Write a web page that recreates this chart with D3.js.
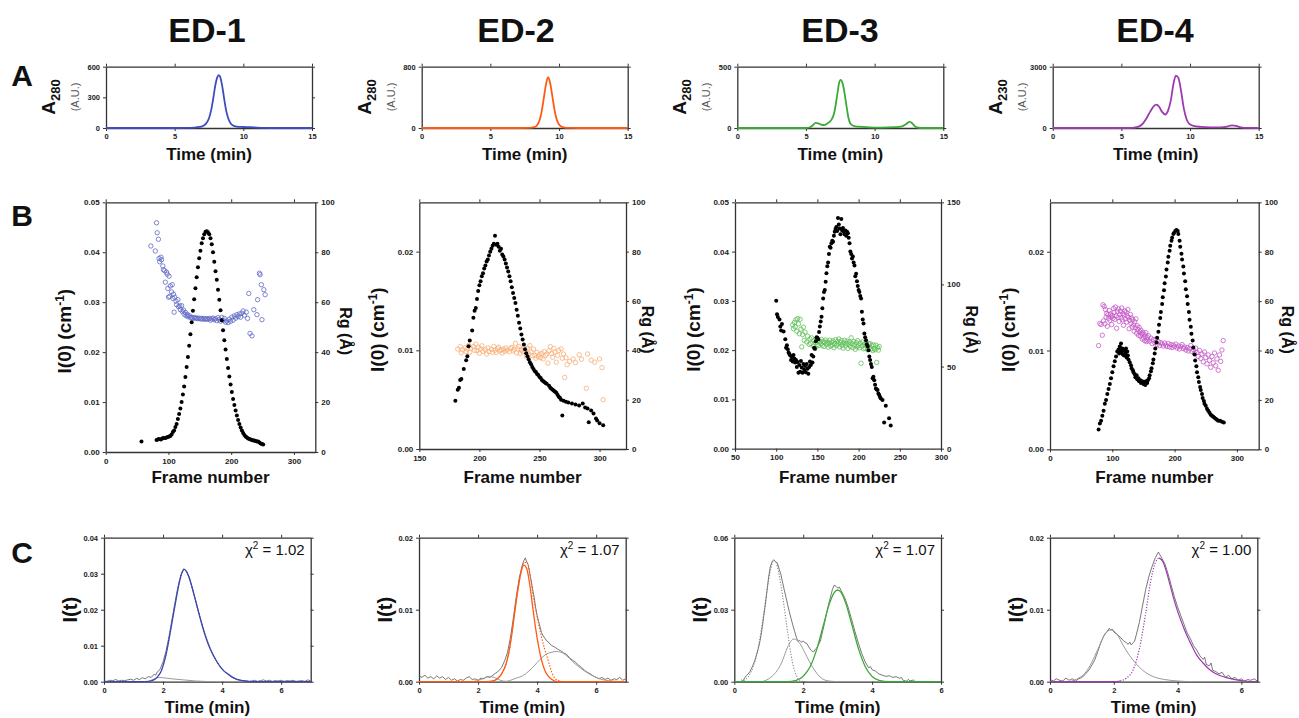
<!DOCTYPE html>
<html><head><meta charset="utf-8">
<script src="https://cdn.jsdelivr.net/npm/d3@7"></script>
<style>body{margin:0;background:#fff;} svg{display:block;}</style>
</head><body><svg id="c" width="1299" height="718"></svg>
<script>
// ---------------- DATA ----------------
const titles = ["ED-1","ED-2","ED-3","ED-4"];
const chi2 = ["1.02","1.07","1.07","1.00"];
const absSub = ["280","280","280","230"];

// Row A: chromatograms [time (min), absorbance]
const a1 = [[0,0],[5,0],[5.8,1],[6.4,4],[6.8,10],[7.1,22],[7.3,45],[7.5,95],[7.65,170],[7.8,280],[7.95,410],[8.1,495],[8.2,518],[8.3,505],[8.45,420],[8.6,290],[8.75,170],[8.9,95],[9.05,50],[9.25,24],[9.5,14],[10,10],[10.5,8],[11,4],[11.5,1],[12,0],[15,0]];
const a2 = [[0,0],[7,0],[7.8,2],[8.2,10],[8.4,35],[8.6,110],[8.75,230],[8.9,400],[9.05,570],[9.2,662],[9.35,590],[9.5,430],[9.65,260],[9.8,130],[9.95,60],[10.15,20],[10.4,6],[10.8,2],[11.5,0],[15,0]];
const a3 = [[0,0],[5,0],[5.3,6],[5.5,22],[5.7,42],[5.9,38],[6.1,28],[6.35,24],[6.6,40],[6.85,66],[7.05,120],[7.25,250],[7.4,360],[7.52,392],[7.65,370],[7.8,290],[7.95,180],[8.1,80],[8.3,28],[8.6,14],[9,10],[9.6,5],[10.5,3],[11.5,7],[12,14],[12.3,32],[12.55,52],[12.75,36],[12.95,12],[13.2,2],[13.6,0],[15,0]];
const a4 = [[0,0],[5,0],[5.8,10],[6.2,55],[6.5,170],[6.8,440],[7.1,800],[7.35,1060],[7.55,1145],[7.75,1040],[7.95,800],[8.2,660],[8.4,850],[8.6,1350],[8.8,2180],[8.97,2565],[9.15,2450],[9.35,1800],[9.55,950],[9.75,430],[9.95,200],[10.25,100],[10.8,55],[11.5,35],[12.2,30],[12.7,70],[13.05,130],[13.35,105],[13.7,35],[14.2,5],[15,0]];
const aYDomain = [600,800,500,3000];
const aYTicks = [[0,300,600],[0,800],[0,500],[0,3000]];

// Row B: I(0) [frame, cm-1] and Rg [frame, Å]
const i0_1 = [[57,0.0021],[81,0.0024],[83,0.0025],[85,0.0026],[88,0.0025],[90,0.0027],[92,0.0028],[95,0.0028],[97,0.0029],[99,0.0030],[101,0.0031],[103,0.0032],[105,0.0035],[107,0.0040],[109,0.0043],[111,0.0050],[113,0.0056],[115,0.0066],[117,0.0076],[119,0.0087],[121,0.0100],[123,0.0115],[125,0.0131],[127,0.0150],[129,0.0170],[131,0.0190],[133,0.0213],[135,0.0236],[137,0.0260],[139,0.0283],[141,0.0306],[143,0.0328],[145,0.0350],[147,0.0370],[149,0.0388],[151,0.0403],[153,0.0418],[155,0.0428],[157,0.0436],[159,0.0441],[161,0.0442],[163,0.0440],[165,0.0436],[167,0.0428],[169,0.0416],[171,0.0400],[173,0.0381],[175,0.0362],[177,0.0345],[179,0.0325],[181,0.0305],[183,0.0284],[185,0.0264],[187,0.0244],[189,0.0224],[191,0.0205],[193,0.0186],[195,0.0168],[197,0.0151],[199,0.0135],[201,0.0120],[203,0.0106],[205,0.0094],[207,0.0083],[209,0.0073],[211,0.0064],[213,0.0056],[215,0.0049],[217,0.0043],[219,0.0038],[221,0.0034],[223,0.0031],[225,0.0029],[227,0.0027],[229,0.0026],[231,0.0025],[233,0.0024],[235,0.0023],[237,0.0023],[239,0.0022],[241,0.0021],[243,0.0021],[245,0.0019],[247,0.0017],[249,0.0016],[251,0.0015]];
const rg_1 = [[72,82.5],[79,80.5],[81,91.8],[82,87.8],[84,85.2],[85,77.5],[86,76.2],[88,78.0],[89,77.0],[91,74.5],[92,73.0],[94,72.6],[95,68.0],[97,72.0],[98,71.2],[99,65.5],[100,62.0],[101,70.4],[102,62.3],[103,66.5],[105,64.1],[106,67.0],[107,61.5],[108,63.2],[109,56.0],[110,62.0],[112,60.4],[113,59.0],[115,61.0],[116,58.2],[118,58.5],[119,57.0],[121,58.6],[122,56.3],[124,56.8],[125,55.2],[127,55.9],[128,54.6],[130,55.1],[131,54.2],[133,54.6],[135,53.8],[137,54.0],[139,53.6],[141,53.9],[143,53.5],[145,53.7],[147,53.4],[149,53.6],[151,53.3],[153,53.5],[155,53.2],[157,53.5],[159,53.1],[161,53.4],[163,53.2],[165,53.5],[167,52.8],[169,53.3],[171,53.6],[173,53.0],[175,53.4],[177,52.6],[179,53.8],[181,53.0],[183,52.4],[185,53.9],[187,52.7],[189,53.5],[191,52.0],[193,52.5],[195,51.8],[197,53.2],[199,52.3],[201,54.0],[203,52.8],[205,54.5],[207,53.6],[209,55.0],[211,54.2],[213,55.3],[215,54.0],[217,55.6],[219,56.5],[221,54.8],[224,56.0],[226,53.5],[228,63.5],[230,47.5],[233,46.5],[236,57.0],[241,55.0],[242,61.0],[245,71.6],[246,71.0],[248,67.0],[249,53.0],[252,65.0],[254,63.0]];

const i0_2 = [[180,0.0049],[182,0.0060],[183,0.0062],[184,0.0070],[185,0.0071],[187,0.0081],[189,0.0090],[190,0.0094],[191,0.0104],[192,0.0110],[194,0.0120],[195,0.0133],[196,0.0140],[197,0.0143],[198,0.0152],[199,0.0160],[200,0.0166],[201,0.0170],[202,0.0175],[203,0.0178],[204,0.0183],[205,0.0186],[206,0.0190],[207,0.0192],[208,0.0196],[209,0.0200],[210,0.0203],[211,0.0206],[212,0.0208],[213,0.0216],[214,0.0207],[215,0.0208],[216,0.0205],[217,0.0201],[218,0.0203],[219,0.0197],[220,0.0195],[221,0.0192],[222,0.0188],[223,0.0184],[224,0.0180],[225,0.0175],[226,0.0170],[227,0.0164],[228,0.0158],[229,0.0153],[230,0.0148],[231,0.0141],[232,0.0135],[233,0.0128],[234,0.0122],[235,0.0116],[236,0.0111],[237,0.0106],[238,0.0101],[239,0.0097],[240,0.0094],[241,0.0091],[242,0.0088],[243,0.0086],[244,0.0083],[245,0.0081],[246,0.0079],[247,0.0078],[248,0.0076],[249,0.0075],[250,0.0073],[251,0.0072],[252,0.0070],[253,0.0069],[254,0.0068],[255,0.0067],[256,0.0066],[258,0.0064],[259,0.0062],[260,0.0061],[261,0.0060],[262,0.0059],[263,0.0058],[264,0.0057],[265,0.0055],[266,0.0053],[267,0.0052],[268,0.0050],[269,0.0034],[270,0.0049],[272,0.0048],[274,0.0047],[277,0.0046],[280,0.0045],[283,0.0044],[286,0.0046],[288,0.0042],[290,0.0041],[291,0.0027],[293,0.0039],[295,0.0036],[297,0.0031],[298,0.0029],[300,0.0026],[303,0.0024]];
const rg_2 = [[182,40.5],[184,41.5],[185,39.0],[186,40.2],[188,41.0],[189,39.5],[190,40.5],[191,42.0],[192,39.2],[193,40.8],[195,41.5],[196,40.0],[197,42.5],[198,39.8],[199,41.2],[200,38.8],[201,40.6],[202,41.8],[203,39.6],[205,40.3],[206,38.5],[207,41.0],[208,39.5],[210,40.4],[211,39.2],[212,41.6],[213,40.0],[214,39.1],[215,40.7],[216,41.3],[217,39.7],[218,40.2],[219,38.9],[220,40.5],[221,39.6],[222,41.0],[223,40.1],[225,39.4],[226,40.8],[227,41.2],[228,39.8],[229,40.4],[230,42.8],[231,39.0],[232,40.6],[233,41.5],[234,38.7],[235,40.2],[236,39.5],[237,41.0],[238,39.9],[239,37.5],[240,40.8],[241,38.6],[242,41.9],[243,39.3],[244,37.8],[245,40.5],[246,38.0],[247,36.8],[248,39.2],[249,37.4],[250,38.3],[251,37.0],[252,38.8],[253,36.5],[254,39.5],[255,37.9],[256,38.5],[257,34.8],[258,39.8],[259,41.5],[260,38.7],[261,37.2],[262,40.8],[263,39.3],[264,35.2],[265,38.0],[266,39.9],[268,40.6],[269,36.8],[270,38.5],[271,29.0],[272,37.0],[273,34.2],[275,35.5],[278,36.5],[280,35.0],[283,38.2],[285,36.4],[289,24.6],[290,38.5],[293,36.0],[296,35.2],[300,36.5],[302,33.0],[303,20.0]];

const i0_3 = [[100,0.0300],[101,0.0273],[102,0.0267],[104,0.0262],[105,0.0248],[106,0.0240],[107,0.0253],[109,0.0238],[111,0.0222],[112,0.0205],[113,0.0210],[114,0.0202],[115,0.0195],[116,0.0192],[117,0.0189],[118,0.0180],[119,0.0186],[120,0.0177],[121,0.0190],[122,0.0183],[123,0.0175],[124,0.0180],[125,0.0166],[126,0.0176],[127,0.0154],[128,0.0170],[129,0.0156],[130,0.0178],[131,0.0165],[132,0.0154],[133,0.0172],[134,0.0160],[135,0.0168],[136,0.0155],[137,0.0172],[138,0.0162],[139,0.0152],[140,0.0166],[141,0.0177],[142,0.0170],[143,0.0190],[144,0.0175],[145,0.0187],[146,0.0205],[147,0.0203],[148,0.0218],[149,0.0226],[150,0.0225],[151,0.0222],[152,0.0237],[153,0.0248],[154,0.0258],[155,0.0268],[156,0.0285],[157,0.0305],[158,0.0318],[159,0.0322],[160,0.0339],[161,0.0356],[162,0.0370],[163,0.0378],[164,0.0395],[165,0.0410],[166,0.0408],[167,0.0417],[168,0.0422],[169,0.0420],[170,0.0432],[171,0.0440],[172,0.0446],[173,0.0450],[174,0.0442],[175,0.0468],[176,0.0455],[177,0.0447],[178,0.0435],[179,0.0466],[180,0.0443],[181,0.0448],[182,0.0440],[183,0.0435],[184,0.0443],[185,0.0432],[186,0.0440],[187,0.0437],[188,0.0428],[189,0.0417],[190,0.0400],[191,0.0395],[192,0.0386],[193,0.0390],[194,0.0378],[195,0.0372],[196,0.0350],[197,0.0355],[198,0.0340],[199,0.0330],[200,0.0322],[201,0.0318],[202,0.0310],[203,0.0305],[204,0.0278],[205,0.0262],[206,0.0254],[207,0.0234],[208,0.0226],[209,0.0220],[210,0.0212],[211,0.0208],[212,0.0200],[213,0.0187],[214,0.0180],[215,0.0172],[216,0.0166],[217,0.0143],[218,0.0146],[219,0.0139],[220,0.0130],[221,0.0122],[222,0.0120],[223,0.0119],[224,0.0112],[225,0.0109],[226,0.0105],[227,0.0102],[229,0.0099],[231,0.0053],[233,0.0087],[237,0.0062],[239,0.0047]];
const rg_3 = [[120,75.5],[121,73.0],[122,76.8],[123,74.2],[124,78.5],[125,71.5],[126,79.2],[127,76.0],[128,70.0],[129,78.8],[130,72.8],[131,62.0],[132,69.5],[133,74.0],[134,66.0],[135,71.0],[137,65.0],[138,68.5],[140,63.5],[141,66.8],[142,64.0],[143,67.5],[145,62.5],[146,65.8],[147,61.0],[148,64.5],[149,67.0],[150,63.2],[151,66.0],[152,62.8],[153,65.5],[154,64.0],[155,66.5],[156,63.0],[157,65.2],[158,62.2],[159,64.8],[160,66.2],[161,63.5],[162,65.0],[163,61.8],[164,64.2],[165,66.0],[166,62.5],[167,64.8],[168,63.0],[169,65.6],[170,61.5],[171,64.0],[172,66.4],[173,62.8],[174,65.2],[175,63.6],[176,66.8],[177,62.0],[178,64.6],[179,65.8],[180,63.0],[181,61.2],[182,64.4],[183,66.0],[184,62.6],[185,64.0],[186,65.5],[187,61.0],[188,63.8],[189,65.0],[190,62.2],[191,67.5],[192,64.0],[193,61.5],[194,65.3],[195,63.2],[196,60.5],[197,64.6],[198,62.0],[199,65.8],[200,63.0],[201,61.4],[202,64.2],[203,52.0],[204,62.5],[205,65.0],[206,60.8],[207,63.6],[208,61.2],[209,64.5],[210,62.4],[211,60.2],[212,63.8],[213,61.6],[214,64.0],[215,60.6],[216,62.8],[217,59.8],[218,63.2],[219,61.0],[220,60.2],[221,63.0],[222,52.5],[223,61.5],[224,60.0],[225,62.2]];

const i0_4 = [[78,0.0020],[80,0.0026],[82,0.0029],[84,0.0034],[86,0.0039],[88,0.0046],[90,0.0050],[92,0.0056],[94,0.0061],[96,0.0066],[98,0.0072],[100,0.0078],[102,0.0084],[104,0.0089],[106,0.0094],[108,0.0099],[110,0.0101],[111,0.0097],[112,0.0104],[113,0.0100],[114,0.0107],[115,0.0098],[116,0.0102],[117,0.0096],[118,0.0101],[119,0.0095],[120,0.0100],[121,0.0097],[122,0.0102],[123,0.0093],[124,0.0099],[125,0.0095],[126,0.0091],[128,0.0088],[130,0.0085],[131,0.0082],[133,0.0080],[134,0.0078],[136,0.0076],[137,0.0073],[139,0.0075],[140,0.0071],[142,0.0072],[143,0.0069],[145,0.0070],[146,0.0067],[148,0.0069],[150,0.0066],[151,0.0068],[153,0.0065],[154,0.0069],[156,0.0067],[157,0.0070],[159,0.0072],[160,0.0075],[162,0.0079],[163,0.0082],[165,0.0087],[166,0.0091],[168,0.0097],[169,0.0102],[171,0.0108],[172,0.0113],[174,0.0119],[175,0.0126],[177,0.0133],[178,0.0139],[180,0.0147],[181,0.0154],[183,0.0161],[184,0.0168],[186,0.0175],[187,0.0182],[189,0.0189],[190,0.0195],[192,0.0201],[193,0.0206],[195,0.0211],[196,0.0214],[198,0.0218],[199,0.0219],[201,0.0221],[203,0.0222],[205,0.0221],[206,0.0218],[208,0.0211],[209,0.0205],[211,0.0198],[212,0.0192],[214,0.0185],[215,0.0178],[217,0.0170],[218,0.0162],[220,0.0155],[221,0.0147],[223,0.0139],[224,0.0131],[226,0.0124],[227,0.0117],[229,0.0110],[230,0.0103],[232,0.0096],[233,0.0090],[235,0.0084],[236,0.0078],[238,0.0073],[239,0.0068],[241,0.0063],[242,0.0060],[244,0.0056],[245,0.0052],[247,0.0049],[248,0.0046],[250,0.0044],[252,0.0041],[254,0.0039],[256,0.0037],[258,0.0035],[260,0.0034],[262,0.0033],[264,0.0032],[266,0.0031],[268,0.0030],[270,0.0029],[273,0.0029],[276,0.0028],[279,0.0027]];
const rg_4 = [[78,42.0],[80,51.0],[82,50.5],[84,46.2],[85,58.5],[86,52.0],[87,57.8],[88,50.8],[89,56.6],[90,53.5],[91,55.0],[92,49.8],[93,54.5],[94,53.0],[95,56.2],[96,52.2],[97,54.8],[98,53.6],[99,50.5],[100,54.2],[101,53.0],[102,57.0],[103,55.4],[104,52.6],[105,57.6],[106,54.0],[107,49.0],[108,55.8],[109,53.4],[110,56.8],[111,51.8],[112,54.6],[113,55.9],[114,53.2],[115,57.2],[116,52.4],[117,55.0],[118,50.2],[119,54.4],[120,56.0],[121,52.8],[122,55.6],[123,51.5],[124,54.0],[125,56.6],[126,53.4],[127,48.8],[128,52.2],[129,54.6],[130,51.0],[131,53.2],[132,49.5],[133,52.5],[134,50.4],[135,47.8],[136,51.6],[137,49.2],[138,52.8],[139,47.0],[140,50.0],[141,48.6],[142,46.2],[143,49.4],[144,47.6],[145,45.8],[146,48.2],[147,46.8],[148,44.6],[149,47.4],[150,45.2],[151,46.6],[152,44.0],[153,45.8],[154,47.2],[155,43.6],[156,45.4],[157,44.2],[158,46.0],[160,43.8],[162,45.0],[164,42.8],[166,44.4],[168,43.2],[170,44.6],[172,42.4],[174,43.6],[176,42.0],[178,43.2],[180,42.6],[182,41.8],[184,43.0],[186,42.2],[188,41.6],[190,42.8],[192,41.4],[194,42.4],[196,41.2],[198,42.2],[200,41.6],[202,42.6],[204,41.0],[206,41.8],[208,40.6],[210,41.6],[212,42.4],[214,40.8],[216,41.4],[218,40.2],[220,41.2],[222,39.8],[224,40.8],[226,42.0],[228,39.6],[230,40.4],[232,38.8],[234,41.0],[236,39.2],[238,37.6],[240,40.0],[242,36.8],[244,38.6],[246,35.4],[248,39.4],[250,37.2],[252,34.6],[254,38.2],[256,36.0],[258,33.2],[260,37.6],[262,35.0],[264,39.0],[266,33.8],[268,36.6],[270,32.0],[272,38.2],[274,35.6],[276,40.2],[278,44.0]];

// Row C: I(t) data, fitted components [time (min), I]
const c1_data = [[0,0.0002],[0.1,0.0001],[0.2,0.0004],[0.3,0.0003],[0.4,0.0006],[0.5,0.0002],[0.6,0.0004],[0.7,0.0003],[0.8,0.0005],[0.9,0.0007],[1.0,0.0004],[1.1,0.0009],[1.2,0.0006],[1.3,0.0011],[1.4,0.0008],[1.5,0.0014],[1.6,0.0012],[1.7,0.0021],[1.75,0.0018],[1.8,0.0027],[1.85,0.0030],[1.9,0.0035],[2.0,0.0055],[2.1,0.0085],[2.2,0.0125],[2.3,0.0172],[2.4,0.0218],[2.5,0.0262],[2.6,0.0296],[2.7,0.0314],[2.75,0.0310],[2.8,0.0306],[2.9,0.0288],[3.0,0.0255],[3.1,0.0228],[3.2,0.0196],[3.3,0.0166],[3.4,0.0138],[3.5,0.0114],[3.6,0.0092],[3.7,0.0072],[3.8,0.0058],[3.9,0.0046],[4.0,0.0036],[4.1,0.0026],[4.2,0.0022],[4.3,0.0014],[4.4,0.0011],[4.5,0.0006],[4.6,0.0004],[4.7,0.0002],[4.8,0.0003],[4.9,0.0001],[5.0,0.0002],[5.1,0.0004],[5.2,0.0001],[5.3,0.0003],[5.4,0.0005],[5.5,0.0002],[5.6,0.0004],[5.7,0.0001],[5.8,0.0003],[5.9,0.0002],[6.0,0.0004],[6.1,0.0001],[6.2,0.0003],[6.3,0.0002],[6.4,0.0004],[6.5,0.0001],[6.6,0.0002],[6.7,0.0003],[6.8,0.0001],[6.9,0.0005],[7.0,0.0002]];
const c1_main = [[0,0],[1.4,0],[1.6,0.0002],[1.8,0.0012],[1.95,0.0032],[2.1,0.0075],[2.25,0.0140],[2.4,0.0210],[2.55,0.0275],[2.65,0.0305],[2.72,0.0312],[2.8,0.0305],[2.95,0.0272],[3.1,0.0225],[3.25,0.0178],[3.4,0.0135],[3.55,0.0100],[3.7,0.0074],[3.85,0.0052],[4.0,0.0035],[4.2,0.0021],[4.4,0.0010],[4.7,0.0003],[5,0],[7,0]];
const c1_minor = [[1.5,0],[1.7,0.0008],[1.85,0.0012],[2.0,0.0011],[2.3,0.0008],[2.7,0.0005],[3.1,0.0002],[3.5,0.00005],[4,0]];

const c2_data = [[0,0.0008],[0.1,0.0006],[0.2,0.0009],[0.3,0.0005],[0.4,0.0007],[0.5,0.0004],[0.6,0.0008],[0.7,0.0005],[0.8,0.0007],[0.9,0.0003],[1.0,0.0006],[1.1,0.0002],[1.2,0.0004],[1.3,0.0001],[1.4,0.0003],[1.5,0.0002],[1.6,0.0005],[1.7,0.0007],[1.8,0.0003],[1.9,0.0004],[2.0,0.0002],[2.1,0.0005],[2.2,0.0004],[2.3,0.0007],[2.4,0.0006],[2.5,0.0009],[2.6,0.0012],[2.7,0.0015],[2.8,0.0020],[2.9,0.0029],[3.0,0.0041],[3.1,0.0062],[3.2,0.0090],[3.3,0.0120],[3.4,0.0145],[3.5,0.0162],[3.55,0.0168],[3.6,0.0172],[3.65,0.0166],[3.7,0.0162],[3.75,0.0150],[3.8,0.0140],[3.85,0.0128],[3.9,0.0117],[3.95,0.0103],[4.0,0.0092],[4.05,0.0084],[4.1,0.0076],[4.15,0.0068],[4.2,0.0064],[4.3,0.0058],[4.4,0.0054],[4.5,0.0050],[4.6,0.0048],[4.7,0.0045],[4.8,0.0043],[4.9,0.0040],[5.0,0.0038],[5.1,0.0033],[5.2,0.0030],[5.3,0.0027],[5.4,0.0023],[5.5,0.0020],[5.6,0.0016],[5.7,0.0013],[5.8,0.0011],[5.9,0.0008],[6.0,0.0006],[6.1,0.0004],[6.2,0.0006],[6.3,0.0003],[6.4,0.0005],[6.5,0.0002],[6.6,0.0004],[6.7,0.0003],[6.8,0.0006],[6.9,0.0002],[7.0,0.0004]];
const c2_main = [[0,0],[2.3,0],[2.5,0.0001],[2.65,0.0004],[2.8,0.0011],[2.95,0.0025],[3.05,0.0042],[3.15,0.0068],[3.25,0.0099],[3.35,0.0128],[3.45,0.0151],[3.55,0.0162],[3.65,0.0157],[3.75,0.0135],[3.85,0.0104],[3.95,0.0074],[4.05,0.0049],[4.15,0.0030],[4.25,0.0017],[4.35,0.0009],[4.5,0.0003],[4.7,0],[7,0]];
const c2_fit = [[2.3,0],[2.5,0.0001],[2.65,0.0004],[2.8,0.0011],[2.95,0.0025],[3.05,0.0042],[3.15,0.0068],[3.25,0.0099],[3.35,0.0128],[3.45,0.0152],[3.55,0.0165],[3.65,0.0166],[3.75,0.0152],[3.85,0.0123],[3.95,0.0101],[4.05,0.0080],[4.15,0.0062],[4.25,0.0046],[4.35,0.0033],[4.45,0.0019],[4.55,0.0008],[4.7,0.0002],[4.9,0]];
const c2_minor = [[1.8,0],[2.1,0.0003],[2.35,0.0007],[2.55,0.0006],[2.75,0.0002],[2.95,0.00005],[3.1,0.0002],[3.3,0.0005],[3.5,0.0008],[3.7,0.0014],[3.9,0.0022],[4.1,0.0031],[4.3,0.0038],[4.5,0.0041],[4.65,0.0042],[4.8,0.0041],[5.0,0.0036],[5.2,0.0028],[5.4,0.0021],[5.6,0.0015],[5.8,0.0010],[6.0,0.0006],[6.2,0.0003],[6.5,0.0001],[7,0]];

const c3_data = [[0.2,0.0008],[0.25,0.0003],[0.3,0.0015],[0.35,0.0025],[0.4,0.0032],[0.45,0.0041],[0.5,0.0055],[0.55,0.0072],[0.6,0.0090],[0.65,0.0115],[0.7,0.0140],[0.75,0.0172],[0.8,0.0215],[0.85,0.0268],[0.9,0.0320],[0.95,0.0380],[1.0,0.0440],[1.05,0.0482],[1.1,0.0502],[1.15,0.0508],[1.2,0.0500],[1.25,0.0495],[1.3,0.0470],[1.35,0.0448],[1.4,0.0415],[1.45,0.0382],[1.5,0.0352],[1.55,0.0320],[1.6,0.0290],[1.65,0.0262],[1.7,0.0235],[1.75,0.0210],[1.8,0.0186],[1.85,0.0168],[1.9,0.0172],[1.95,0.0164],[2.0,0.0170],[2.05,0.0162],[2.1,0.0160],[2.15,0.0148],[2.2,0.0136],[2.25,0.0128],[2.3,0.0124],[2.35,0.0135],[2.4,0.0142],[2.5,0.0170],[2.6,0.0232],[2.7,0.0300],[2.8,0.0358],[2.85,0.0385],[2.9,0.0402],[2.95,0.0398],[3.0,0.0390],[3.05,0.0394],[3.1,0.0380],[3.2,0.0352],[3.3,0.0312],[3.4,0.0262],[3.5,0.0210],[3.6,0.0162],[3.7,0.0118],[3.8,0.0082],[3.85,0.0070],[3.9,0.0058],[3.95,0.0063],[4.0,0.0050],[4.1,0.0044],[4.2,0.0032],[4.3,0.0027],[4.4,0.0022],[4.5,0.0025],[4.6,0.0018],[4.7,0.0021],[4.8,0.0014],[4.85,0.0018],[4.9,0.0006],[5.0,0.0002],[5.05,0.0010],[5.1,0.0003],[5.2,0.0007],[5.25,0.0001],[5.3,0]];
const c3_main = [[0,0],[1.5,0],[1.8,0.0006],[2.0,0.0023],[2.2,0.0062],[2.4,0.0138],[2.6,0.0243],[2.75,0.0320],[2.9,0.0371],[3.0,0.0382],[3.1,0.0372],[3.25,0.0320],[3.4,0.0244],[3.6,0.0140],[3.8,0.0063],[4.0,0.0022],[4.2,0.0006],[4.5,0],[6,0]];
const c3_minor = [[0.8,0],[1.0,0.0012],[1.2,0.0038],[1.37,0.0078],[1.55,0.0145],[1.73,0.0178],[1.9,0.0160],[2.1,0.0106],[2.25,0.0066],[2.4,0.0034],[2.58,0.0010],[2.8,0.0002],[3.1,0]];
const c3_first = [[0.2,0],[0.4,0.0020],[0.55,0.0062],[0.7,0.0145],[0.85,0.0280],[0.95,0.0380],[1.05,0.0465],[1.15,0.0505],[1.25,0.0480],[1.35,0.0405],[1.45,0.0310],[1.55,0.0205],[1.65,0.0110],[1.75,0.0045],[1.85,0.0012],[1.95,0.0002],[2.1,0]];

const c4_data = [[0,0.0003],[0.1,0.0001],[0.2,0.0004],[0.3,0.0002],[0.4,0.0001],[0.5,0.0005],[0.6,0.0002],[0.7,0.0004],[0.8,0.0001],[0.9,0.0004],[1.0,0.0006],[1.1,0.0010],[1.2,0.0015],[1.3,0.0022],[1.4,0.0030],[1.5,0.0042],[1.6,0.0055],[1.7,0.0065],[1.75,0.0068],[1.8,0.0070],[1.85,0.0074],[1.9,0.0072],[1.95,0.0073],[2.0,0.0069],[2.1,0.0066],[2.2,0.0062],[2.3,0.0057],[2.4,0.0054],[2.45,0.0052],[2.5,0.0055],[2.55,0.0051],[2.6,0.0054],[2.65,0.0056],[2.7,0.0064],[2.8,0.0082],[2.9,0.0105],[3.0,0.0128],[3.1,0.0146],[3.2,0.0160],[3.3,0.0172],[3.35,0.0176],[3.4,0.0180],[3.45,0.0176],[3.5,0.0172],[3.6,0.0164],[3.7,0.0150],[3.8,0.0134],[3.9,0.0118],[4.0,0.0104],[4.1,0.0092],[4.2,0.0080],[4.3,0.0068],[4.4,0.0060],[4.5,0.0050],[4.6,0.0044],[4.7,0.0036],[4.8,0.0031],[4.85,0.0034],[4.9,0.0024],[5.0,0.0022],[5.05,0.0026],[5.1,0.0016],[5.2,0.0014],[5.3,0.0011],[5.4,0.0013],[5.5,0.0006],[5.6,0.0009],[5.7,0.0004],[5.8,0.0006],[5.9,0.0002],[6.0,0.0004],[6.1,0.0001],[6.2,0.0003],[6.3,0.0002],[6.4,0.0004],[6.5,0.0001]];
const c4_main = [[0,0],[2.0,0],[2.2,0.0001],[2.4,0.0005],[2.6,0.0016],[2.8,0.0045],[3.0,0.0095],[3.15,0.0138],[3.3,0.0165],[3.42,0.0172],[3.55,0.0166],[3.7,0.0145],[3.85,0.0120],[4.0,0.0098],[4.2,0.0074],[4.4,0.0054],[4.6,0.0037],[4.8,0.0026],[5.0,0.0017],[5.25,0.0010],[5.5,0.0006],[5.8,0.0003],[6.1,0.0001],[6.5,0]];
const c4_minor = [[0.6,0],[0.9,0.0005],[1.1,0.0012],[1.3,0.0026],[1.5,0.0045],[1.7,0.0064],[1.9,0.0072],[2.1,0.0066],[2.3,0.0050],[2.5,0.0036],[2.7,0.0025],[2.9,0.0016],[3.1,0.0010],[3.3,0.0006],[3.6,0.0003],[4.0,0.0001],[4.5,0]];

// ---------------- STYLE / LAYOUT ----------------
const FONT = 'Arial, "Liberation Sans", Helvetica, sans-serif';
const colors = ["#3f4cc0","#ff5a14","#3aaa36","#9c3aaf"];
const rgColors = ["#6068c4","#f7ae78","#5ebf58","#c45ac6"];
const svg = d3.select('#c').attr('font-family', FONT);

function styleAxis(sel, fs) {
  sel.select('.domain').attr('stroke','#333').attr('stroke-width',1.3);
  sel.selectAll('.tick line').attr('stroke','#333').attr('stroke-width',1);
  sel.selectAll('.tick text').attr('font-size',fs).attr('font-weight','bold').attr('fill','#222').attr('font-family',FONT);
}
function frame(g, x, y, o) {
  const [L,R] = x.range(), [B,T] = y.range();
  g.append('g').attr('transform',`translate(0,${B})`)
    .call(d3.axisBottom(x).tickValues(o.xt).tickSize(3).tickSizeOuter(0).tickPadding(3).tickFormat(o.xf || d3.format('d')))
    .call(s=>styleAxis(s,o.fs));
  g.append('g').attr('transform',`translate(0,${T})`)
    .call(d3.axisTop(x).tickValues(o.xt).tickSize(3).tickSizeOuter(0).tickFormat(''))
    .call(s=>styleAxis(s,o.fs));
  g.append('g').attr('transform',`translate(${L},0)`)
    .call(d3.axisLeft(y).tickValues(o.yt).tickSize(3).tickSizeOuter(0).tickPadding(3).tickFormat(o.yf))
    .call(s=>styleAxis(s,o.fs));
  const r = o.r || y;
  g.append('g').attr('transform',`translate(${R},0)`)
    .call(d3.axisRight(r).tickValues(o.rt || o.yt).tickSize(3).tickSizeOuter(0).tickPadding(3).tickFormat(o.r ? d3.format('d') : ''))
    .call(s=>styleAxis(s,o.fs));
}
function clip(g, id, x, y) {
  const [L,R] = x.range(), [B,T] = y.range();
  svg.append('clipPath').attr('id',id).append('rect').attr('x',L).attr('y',T-1).attr('width',R-L).attr('height',B-T+2);
  return g.append('g').attr('clip-path',`url(#${id})`);
}

// Column titles and row letters
const titleX = [207,516,840,1155];
titles.forEach((t,i)=>svg.append('text').attr('x',titleX[i]).attr('y',42).attr('text-anchor','middle')
  .attr('font-size',34).attr('font-weight','bold').attr('fill','#111').text(t));
[['A',86],['B',226],['C',563]].forEach(([t,yy])=>svg.append('text').attr('x',22).attr('y',yy).attr('text-anchor','middle')
  .attr('font-size',30).attr('font-weight','bold').attr('fill','#111').text(t));

// ---------------- ROW A ----------------
const aData = [a1,a2,a3,a4];
const aLeft = [106,421.7,737.3,1052.7];
aData.forEach((d,i)=>{
  const g = svg.append('g');
  const x = d3.scaleLinear().domain([0,15]).range([aLeft[i], aLeft[i]+206]);
  const y = d3.scaleLinear().domain([0,aYDomain[i]]).range([128,66.7]);
  frame(g,x,y,{xt:[0,5,10,15], yt:aYTicks[i], yf:d3.format('d'), fs:7.5});
  clip(g,'ca'+i,x,y).append('path').datum(d)
    .attr('d', d3.line().x(p=>x(p[0])).y(p=>y(p[1])).curve(d3.curveMonotoneX))
    .attr('fill','none').attr('stroke',colors[i]).attr('stroke-width',1.8);
  const lab = g.append('text').attr('transform',`translate(${aLeft[i]-51},97) rotate(-90)`).attr('text-anchor','middle')
    .attr('font-weight','bold').attr('fill','#111');
  lab.append('tspan').attr('font-size',19).text('A');
  lab.append('tspan').attr('font-size',13).attr('dy',5).text(absSub[i]);
  g.append('text').attr('transform',`translate(${aLeft[i]-27},97) rotate(-90)`).attr('text-anchor','middle')
    .attr('font-size',11).attr('fill','#555').text('(A.U.)');
  g.append('text').attr('x',aLeft[i]+103).attr('y',159.5).attr('text-anchor','middle')
    .attr('font-size',17).attr('font-weight','bold').attr('fill','#111').text('Time (min)');
});

// ---------------- ROW B ----------------
const bI0 = [i0_1,i0_2,i0_3,i0_4];
const bRg = [rg_1,rg_2,rg_3,rg_4];
const bLeft = [105.7,419.3,735,1050], bRight = [315.3,626,941,1258.7], bBottom = [452,449,448.7,449.3];
const bXDom = [[0,334],[150,322],[50,300],[0,335]];
const bXTicks = [[0,100,200,300],[150,200,250,300],[50,100,150,200,250,300],[0,100,200,300]];
const bYDom = [0.05,0.025,0.05,0.025];
const bYTicks = [[0,0.01,0.02,0.03,0.04,0.05],[0,0.01,0.02],[0,0.01,0.02,0.03,0.04,0.05],[0,0.01,0.02]];
const bRDom = [100,100,150,100];
const bRTicks = [[0,20,40,60,80,100],[0,20,40,60,80,100],[0,50,100,150],[0,20,40,60,80,100]];
const bRgLabelOff = [30,22,31,29];
bI0.forEach((d,i)=>{
  const g = svg.append('g');
  const x = d3.scaleLinear().domain(bXDom[i]).range([bLeft[i], bRight[i]]);
  const y = d3.scaleLinear().domain([0,bYDom[i]]).range([bBottom[i],202.3]);
  const r = d3.scaleLinear().domain([0,bRDom[i]]).range([bBottom[i],202.3]);
  frame(g,x,y,{xt:bXTicks[i], yt:bYTicks[i], yf:d3.format('.2f'), fs:8, r:r, rt:bRTicks[i]});
  const c = clip(g,'cb'+i,x,y);
  c.selectAll('circle.rg').data(bRg[i]).enter().append('circle')
    .attr('cx',p=>x(p[0])).attr('cy',p=>r(p[1])).attr('r',2.2)
    .attr('fill','none').attr('stroke',rgColors[i]).attr('stroke-width',0.8);
  c.selectAll('circle.i0').data(d).enter().append('circle')
    .attr('cx',p=>x(p[0])).attr('cy',p=>y(p[1])).attr('r',2).attr('fill','#000');
  const cy = (bBottom[i]+202.3)/2;
  const lab = g.append('text').attr('transform',`translate(${bLeft[i]-35},${cy+4}) rotate(-90)`).attr('text-anchor','middle')
    .attr('font-size',19).attr('font-weight','bold').attr('fill','#111');
  lab.append('tspan').text('I(0) (cm');
  lab.append('tspan').attr('font-size',12).attr('dy',-7).text('-1');
  lab.append('tspan').attr('dy',7).text(')');
  g.append('text').attr('transform',`translate(${bRight[i]+bRgLabelOff[i]},${cy+4}) rotate(90)`).attr('text-anchor','middle')
    .attr('dy','0.35em').attr('font-size',16).attr('font-weight','bold').attr('fill','#111').text('Rg (Å)');
  g.append('text').attr('x',(bLeft[i]+bRight[i])/2).attr('y',483).attr('text-anchor','middle')
    .attr('font-size',17).attr('font-weight','bold').attr('fill','#111').text('Frame number');
});

// ---------------- ROW C ----------------
const cLeft = [104,419,734.3,1050], cRight = [310.7,625.7,941,1257.3];
const cXDom = [7,7,6,6.5];
const cYDom = [0.04,0.02,0.06,0.02];
const cYTicks = [[0,0.01,0.02,0.03,0.04],[0,0.01,0.02],[0,0.03,0.06],[0,0.01,0.02]];
const cDatas = [c1_data,c2_data,c3_data,c4_data];
const cMains = [c1_main,c2_main,c3_main,c4_main];
const cMinors = [c1_minor,c2_minor,c3_minor,c4_minor];
cDatas.forEach((d,i)=>{
  const g = svg.append('g');
  const x = d3.scaleLinear().domain([0,cXDom[i]]).range([cLeft[i], cRight[i]]);
  const y = d3.scaleLinear().domain([0,cYDom[i]]).range([681.7,537.7]);
  frame(g,x,y,{xt:[0,2,4,6], yt:cYTicks[i], yf:d3.format('.2f'), fs:7.5});
  const c = clip(g,'cc'+i,x,y);
  const smooth = d3.line().x(p=>x(p[0])).y(p=>y(p[1])).curve(d3.curveMonotoneX);
  const raw = d3.line().x(p=>x(p[0])).y(p=>y(p[1]));
  c.append('path').datum(d).attr('d',raw).attr('fill','none').attr('stroke','#555').attr('stroke-width',0.8);
  c.append('path').datum(cMinors[i]).attr('d',smooth).attr('fill','none').attr('stroke','#9a9a9a').attr('stroke-width',1);
  if (i===2) {
    c.append('path').datum(c3_first).attr('d',smooth).attr('fill','none').attr('stroke','#777')
      .attr('stroke-width',1).attr('stroke-dasharray','1.2,1.6');
  }
  if (i===3) {
    const solid = d3.line().defined(p=>p[0]<=2.2 || p[0]>=3.42).x(p=>x(p[0])).y(p=>y(p[1])).curve(d3.curveMonotoneX);
    const dot = d3.line().defined(p=>p[0]>=2.2 && p[0]<=3.42).x(p=>x(p[0])).y(p=>y(p[1])).curve(d3.curveMonotoneX);
    c.append('path').datum(cMains[i]).attr('d',solid).attr('fill','none').attr('stroke',colors[i]).attr('stroke-width',1.2);
    c.append('path').datum(cMains[i]).attr('d',dot).attr('fill','none').attr('stroke',colors[i]).attr('stroke-width',1.2).attr('stroke-dasharray','1.2,1.6');
  } else {
    c.append('path').datum(cMains[i]).attr('d',smooth).attr('fill','none').attr('stroke',colors[i]).attr('stroke-width',1.3);
  }
  if (i===0) {
    c.append('path').datum(c1_main).attr('d',smooth).attr('fill','none').attr('stroke','#202060')
      .attr('stroke-width',0.6).attr('stroke-dasharray','0.8,2.2');
  }
  if (i===1) {
    c.append('path').datum(c2_fit).attr('d',smooth).attr('fill','none').attr('stroke',colors[1])
      .attr('stroke-width',1.1).attr('stroke-dasharray','1.5,1.5');
  }
  g.append('text').attr('transform',`translate(${cLeft[i]-34},609.7) rotate(-90)`).attr('text-anchor','middle')
    .attr('dy','0.35em').attr('font-size',20).attr('font-weight','bold').attr('fill','#111').text('I(t)');
  g.append('text').attr('x',(cLeft[i]+cRight[i])/2).attr('y',712.5).attr('text-anchor','middle')
    .attr('font-size',17).attr('font-weight','bold').attr('fill','#111').text('Time (min)');
  const chi = g.append('text').attr('x',cRight[i]-6).attr('y',555).attr('text-anchor','end')
    .attr('font-size',15).attr('fill','#111');
  chi.append('tspan').text('χ');
  chi.append('tspan').attr('font-size',10).attr('dy',-6).text('2');
  chi.append('tspan').attr('dy',6).text(' = ' + chi2[i]);
});
</script></body></html>
